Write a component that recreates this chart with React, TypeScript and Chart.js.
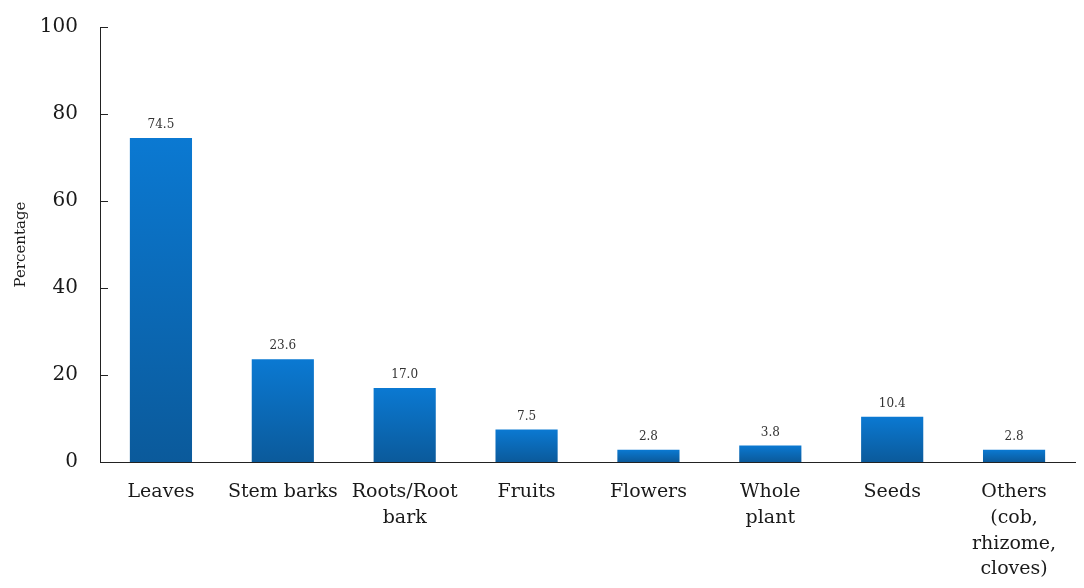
import React, { useEffect, useRef } from "react";
import { Chart, registerables } from "chart.js";

Chart.register(...registerables);

const categories: (string | string[])[] = [
  "Leaves",
  "Stem barks",
  ["Roots/Root", "bark"],
  "Fruits",
  "Flowers",
  ["Whole", "plant"],
  "Seeds",
  ["Others", "(cob,", "rhizome,", "cloves)"],
];
const percentages = [74.5, 23.6, 17.0, 7.5, 2.8, 3.8, 10.4, 2.8];
const yTicks = [0, 20, 40, 60, 80, 100];

const FONT = "'DejaVu Serif', 'Liberation Serif', serif";

// Short tick marks pointing into the plot area from the y axis line
const innerTicks = {
  id: "innerTicks",
  afterDraw(chart: any) {
    const { ctx, scales } = chart;
    const y = scales.y;
    ctx.save();
    ctx.strokeStyle = "#222";
    ctx.lineWidth = 1;
    yTicks.forEach((v) => {
      const py = Math.round(y.getPixelForValue(v)) + 0.5;
      ctx.beginPath();
      ctx.moveTo(y.right, py);
      ctx.lineTo(y.right + 8, py);
      ctx.stroke();
    });
    ctx.restore();
  },
};

// Value printed above every bar
const valueLabels = {
  id: "valueLabels",
  afterDatasetsDraw(chart: any) {
    const { ctx } = chart;
    const meta = chart.getDatasetMeta(0);
    ctx.save();
    ctx.font = `12px ${FONT}`;
    ctx.fillStyle = "#333";
    ctx.textAlign = "center";
    ctx.textBaseline = "bottom";
    meta.data.forEach((bar: any, i: number) => {
      ctx.fillText(percentages[i].toFixed(1), bar.x, bar.y - 7);
    });
    ctx.restore();
  },
};

export default function App() {
  const canvasRef = useRef<HTMLCanvasElement>(null);

  useEffect(() => {
    document.body.style.margin = "0";
    const canvas = canvasRef.current!;
    const chart = new Chart(canvas, {
      type: "bar",
      data: {
        labels: categories,
        datasets: [
          {
            data: percentages,
            // each bar shades from bright blue at its top to deeper blue at the base
            backgroundColor: (c: any) => {
              const chartRef = c.chart;
              const area = chartRef.chartArea;
              if (!area || c.type !== "data") return "#0a6bbd";
              const y = chartRef.scales.y;
              const top = y.getPixelForValue(c.raw);
              const bottom = y.getPixelForValue(0);
              const g = chartRef.ctx.createLinearGradient(0, top, 0, bottom);
              g.addColorStop(0, "#0b79d2");
              g.addColorStop(1, "#0b5a9b");
              return g;
            },
            borderWidth: 0,
            barPercentage: 1,
            categoryPercentage: 0.51,
          },
        ],
      },
      options: {
        responsive: false,
        animation: false,
        layout: { padding: { top: 27, right: 9, bottom: 0, left: 0 } },
        plugins: {
          legend: { display: false },
          tooltip: { enabled: false },
        },
        scales: {
          x: {
            grid: { display: false, drawTicks: false },
            border: { color: "#222", width: 1 },
            ticks: {
              color: "#1a1a1a",
              font: { family: FONT, size: 19, lineHeight: 1.36 },
              padding: 17,
              maxRotation: 0,
              autoSkip: false,
            },
            afterFit(scale: any) {
              scale.height = 126;
            },
          },
          y: {
            min: 0,
            max: 100,
            afterBuildTicks(scale: any) {
              scale.ticks = yTicks.map((v) => ({ value: v }));
            },
            grid: { display: false, drawTicks: false },
            border: { color: "#222", width: 1 },
            ticks: {
              color: "#1a1a1a",
              font: { family: FONT, size: 20 },
              padding: 22,
            },
            title: {
              display: true,
              text: "Percentage",
              color: "#1a1a1a",
              font: { family: FONT, size: 15 },
              padding: { top: 12, bottom: 8 },
            },
            afterFit(scale: any) {
              scale.width = 100;
              scale.paddingTop = 0;
              scale.paddingBottom = 0;
            },
          },
        },
      },
      plugins: [innerTicks, valueLabels],
    });
    return () => chart.destroy();
  }, []);

  return <canvas ref={canvasRef} width={1084} height={588} style={{ display: "block" }} />;
}
